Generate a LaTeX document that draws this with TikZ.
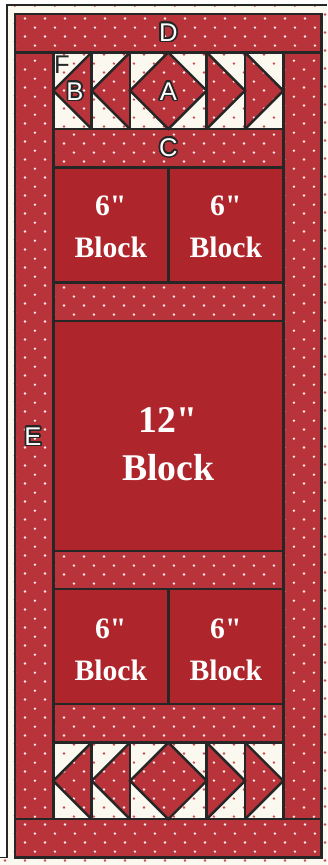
\documentclass[tikz,border=0pt]{standalone}
\usepackage{fontspec}
\usepackage{xcolor}
\usepackage{tikz}
\usepackage{contour}
\usetikzlibrary{positioning, patterns, calc}

\newfontfamily\letterfont{Liberation Sans}
\newfontfamily\blockfont[Ligatures=TeXOff]{Liberation Serif}

\definecolor{quiltred}{HTML}{B8333A}
\definecolor{blockred}{HTML}{AE262C}
\definecolor{cream}{HTML}{FBF8F0}
\definecolor{seam}{HTML}{262626}
\definecolor{dotred}{HTML}{CC4A50}

\pgfdeclarepatternformonly{quiltdots}{\pgfpointorigin}{\pgfpoint{14.8pt}{13.3pt}}{\pgfpoint{14.8pt}{13.3pt}}{%
  \pgfpathcircle{\pgfpoint{3.7pt}{3.3pt}}{1pt}%
  \pgfpathcircle{\pgfpoint{11.1pt}{9.95pt}}{1pt}%
  \pgfusepath{fill}%
}

\contourlength{1.1pt}
\contournumber{32}

\tikzset{
  seam/.style={draw=seam, line width=1.8pt, line join=miter},
  redfabric/.style={fill=quiltred, postaction={pattern=quiltdots, pattern color=white!92!quiltred}},
  creamfabric/.style={fill=cream, postaction={pattern=quiltdots, pattern color=dotred}},
  solidblock/.style={fill=blockred},
  letterlabel/.style={text=white, font=\letterfont\fontsize{19}{19}\selectfont},
  blocklabel/.style={text=white, align=center, font=\blockfont\bfseries\fontsize{22}{31}\selectfont},
}

\begin{document}
\begin{tikzpicture}[x=0.5cm, y=-0.5cm]
      \useasboundingbox (-0.78,-0.73) rectangle (16.28,44.39);

      % Background and frame
      \fill[white] (-0.78,-0.73) rectangle (16.28,44.39);
      \fill[creamfabric] (-0.42,-0.47) rectangle (16.28,44);
      \fill[creamfabric] (-0.78,44) rectangle (16.28,44.39);
      \draw[seam, line width=1.4pt] (16.28,-0.47) -| (-0.42,44) -- (-0.78,44);

      % Borders D and E
      \fill[redfabric] (0,0) rectangle (16,2);
      \fill[redfabric] (0,42) rectangle (16,44);
      \fill[redfabric] (0,2) rectangle (2,42);
      \fill[redfabric] (14,2) rectangle (16,42);

      % Sashing strips (C)
      \foreach \y in {6,14,28,36}
        \fill[redfabric] (2,\y) rectangle (14,\y+2);

      % Plain blocks
      \fill[solidblock] (2,8) rectangle (14,14);
      \fill[solidblock] (2,16) rectangle (14,28);
      \fill[solidblock] (2,30) rectangle (14,36);

      % Flying geese rows
      \foreach \y in {2,38} {
        \fill[creamfabric] (2,\y) rectangle (14,\y+4);
        \foreach \x in {2,4}
          \fill[redfabric] (\x+2,\y) -- (\x+2,\y+4) -- (\x,\y+2) -- cycle;
        \foreach \x in {10,12}
          \fill[redfabric] (\x,\y) -- (\x,\y+4) -- (\x+2,\y+2) -- cycle;
        \fill[redfabric] (8,\y) -- (10,\y+2) -- (8,\y+4) -- (6,\y+2) -- cycle;
      }

      % Seams
      \draw[seam] (0,0) rectangle (16,44);
      \draw[seam] (0,2) -- (16,2);
      \draw[seam] (0,42) -- (16,42);
      \draw[seam] (2,2) -- (2,42);
      \draw[seam] (14,2) -- (14,42);
      \foreach \y in {6,8,14,16,28,30,36,38}
        \draw[seam] (2,\y) -- (14,\y);
      \draw[seam] (8,8) -- (8,14);
      \draw[seam] (8,30) -- (8,36);
      \foreach \y in {2,38} {
        \foreach \x in {4,6,10,12}
          \draw[seam] (\x,\y) -- (\x,\y+4);
        \foreach \x in {2,4}
          \draw[seam] (\x+2,\y) -- (\x,\y+2) -- (\x+2,\y+4);
        \foreach \x in {10,12}
          \draw[seam] (\x,\y) -- (\x+2,\y+2) -- (\x,\y+4);
        \draw[seam] (8,\y) -- (10,\y+2) -- (8,\y+4) -- (6,\y+2) -- cycle;
      }

      % Piece letters
      \node[letterlabel] (labD) at (8,1) {\contour{seam}{D}};
      \node[letterlabel] (labA) at (8,4.07) {\contour{seam}{A}};
      \node[letterlabel] (labB) at (3.13,4.07) {\contour{seam}{B}};
      \node[letterlabel, text=seam] (labF) at (2.45,2.66) {F};
      \node[letterlabel] (labC) at (8,7) {\contour{seam}{C}};
      \node[letterlabel] (labE) at (0.94,22.07) {\contour{seam}{E}};

      % Block labels
      \node[blocklabel] (blockTL) at (5,11.1) {6"\\Block};
      \node[blocklabel] (blockTR) at (11,11.1) {6"\\Block};
      \node[blocklabel, font=\blockfont\bfseries\fontsize{28}{36}\selectfont] (blockC) at (8,22.45) {12"\\Block};
      \node[blocklabel] (blockBL) at (5,33.15) {6"\\Block};
      \node[blocklabel] (blockBR) at (11,33.15) {6"\\Block};
\end{tikzpicture}
\end{document}
